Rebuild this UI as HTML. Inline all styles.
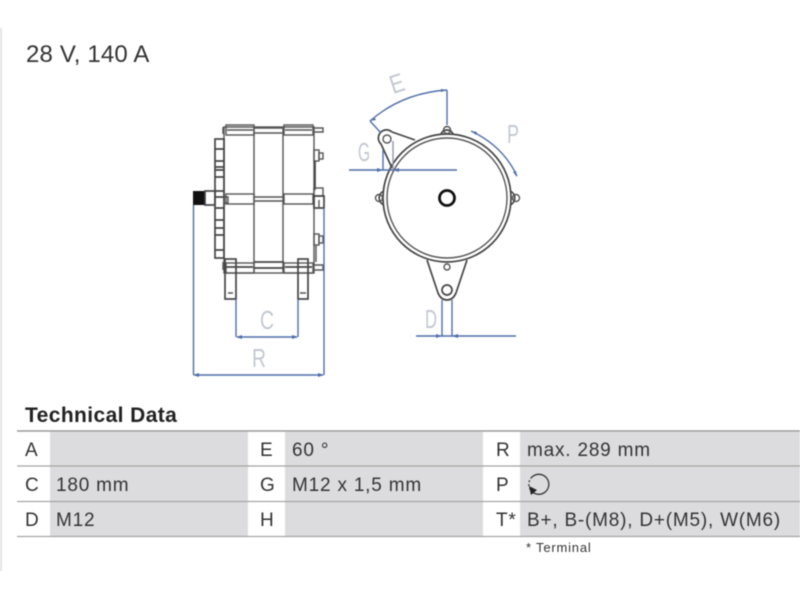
<!DOCTYPE html>
<html>
<head>
<meta charset="utf-8">
<style>
html,body{margin:0;padding:0;background:#fff;width:800px;height:600px;overflow:hidden}
svg{display:block;filter:blur(0.4px)}
text{font-family:"Liberation Sans",sans-serif;fill:#333}
.k{font-size:19px;letter-spacing:.8px}
.d{font-family:"Liberation Sans",sans-serif;font-size:26px;fill:#c3c8d0}
.m{fill:none;stroke:#555;stroke-width:1.400}
.t{fill:none;stroke:#444;stroke-width:1.700}
.b{fill:none;stroke:#4f6ea8;stroke-width:1.400}
.bf{fill:#4f6ea8}
</style>
</head>
<body>
<svg width="800" height="600" viewBox="0 0 800 600" xmlns="http://www.w3.org/2000/svg">
<rect x="0" y="28" width="2" height="543" fill="#e4e4e4"/>
<text x="26" y="62" font-size="24" letter-spacing=".15">28 V, 140 A</text>

<!-- side view -->
<g>
<rect class="m" x="224" y="127" width="90" height="146" fill="none"/>
<path class="m" d="M254 127V273M283 127V273"/>
<!-- top band -->
<rect class="m" x="226" y="125" width="28" height="10"/>
<rect class="m" x="284" y="125" width="29" height="10"/>
<path class="m" d="M227 130H253M285 130H312M254 128H284M254 133H284"/>
<path class="m" d="M223 127V134M313 128H323V132H313"/>
<!-- middle band -->
<rect class="m" x="226" y="194" width="28" height="10"/>
<rect class="m" x="284" y="194" width="29" height="10"/>
<path class="m" d="M254 197H284M254 201H284"/>
<!-- lower band -->
<rect class="m" x="226" y="263" width="28" height="10"/>
<rect class="m" x="284" y="263" width="29" height="10"/>
<path class="t" d="M254 262H284M254 268H284M226 267H253M285 267H312"/>
<path class="m" d="M313 265H323V270H313M223 262V270"/>
<!-- left plate -->
<rect class="t" x="215" y="139" width="9" height="119"/>
<path class="t" d="M215 149H224M215 161H224M215 167H224M215 170H224M215 177H224M215 191H224M215 197H224M215 208H224M215 220H224M215 228H224M215 235H224M215 250H224"/>
<!-- shaft -->
<rect x="193" y="191" width="12" height="14" fill="#111"/>
<rect class="t" x="205" y="191" width="10" height="14"/>
<path class="m" d="M224 197H228V203H224"/>
<!-- right studs -->
<rect class="m" x="314" y="150" width="5" height="11"/>
<rect class="m" x="319" y="153" width="4" height="6"/>
<path class="t" d="M315 161V190"/>
<rect class="m" x="314" y="234" width="5" height="11"/>
<rect class="m" x="319" y="236" width="4" height="7"/>
<rect class="m" x="314" y="188" width="9" height="8"/>
<rect class="t" x="314" y="196" width="10" height="12"/>
<path class="m" d="M314 208H319V200M316 245V262"/>
<!-- feet -->
<rect class="t" x="225" y="259" width="11" height="40" fill="#fff"/>
<rect class="t" x="298" y="259" width="10" height="40" fill="#fff"/>
<path class="m" d="M228 293H233M300 293H306"/>
</g>

<!-- dims left -->
<path class="b" d="M193.500 205V375M324 208V375M236 299V337M298 299V337M194 375H323M237 337H297"/>
<path class="bf" d="M193 375l6-2v4zM324 375l-6-2v4zM236 337l6-2v4zM298 337l-6-2v4z"/>
<text class="d" x="260" y="329" textLength="14" lengthAdjust="spacingAndGlyphs">C</text>
<text class="d" x="252" y="367" textLength="14" lengthAdjust="spacingAndGlyphs">R</text>

<!-- front view -->
<g>
<circle class="t" cx="447" cy="198" r="64" stroke-width="2.200"/>
<circle class="m" cx="447" cy="198" r="60"/>
<circle cx="447" cy="198" r="7.500" fill="none" stroke="#111" stroke-width="2.800"/>
<path class="t" d="M392 132L415 140M392 168L381 144A7.500 7.500 0 0 1 392 132"/>
<circle class="m" cx="387" cy="139" r="4"/>
<path class="t" d="M427 260L438 293Q441 300 447 300Q453 300 456 293L467 260"/>
<circle class="t" cx="447" cy="290" r="5"/>
<circle class="m" cx="447" cy="267" r="3"/>
<path class="t" d="M441 134A6.500 6.500 0 0 1 453 134"/>
<circle class="m" cx="447" cy="130" r="3.500"/>
<path class="t" d="M384 191A7.500 7.500 0 0 0 384 205"/>
<circle class="m" cx="379" cy="198" r="3.500"/>
<path class="t" d="M510 191A7.500 7.500 0 0 1 510 205"/>
<circle class="m" cx="516" cy="198" r="3.500"/>
</g>

<!-- dims front -->
<path class="b" d="M370 121Q402 93 447 90M447 90V125M370 121L381 133"/>
<path class="bf" d="M447 90l-6-1v3zM370 121l5-3 1 2z"/>
<path class="b" d="M349 170H457M383 150V170"/>
<path d="M393 141V170" fill="none" stroke="#8e99ad" stroke-width="1.400"/>
<path class="bf" d="M383 170l-6-2v4zM393 170l6-2v4z"/>
<path class="b" d="M471 131Q503 146 517 176"/>
<path class="bf" d="M471 131l6 1-1 3zM517 177l-4-5 3-1z"/>
<path class="b" d="M442 300V336M452 300V336M416 336H516"/>
<path class="bf" d="M442 336l-6-2v4zM452 336l6-2v4z"/>
<text class="d" x="0" y="0" transform="translate(393 94) rotate(-18)" textLength="14" lengthAdjust="spacingAndGlyphs">E</text>
<text class="d" x="358" y="161" textLength="12" lengthAdjust="spacingAndGlyphs">G</text>
<text class="d" x="507" y="143" textLength="12" lengthAdjust="spacingAndGlyphs">P</text>
<text class="d" x="425" y="328" textLength="12" lengthAdjust="spacingAndGlyphs">D</text>

<!-- table -->
<text x="25" y="422" font-size="21" font-weight="bold" style="fill:#222" letter-spacing=".4">Technical Data</text>
<rect x="50" y="432" width="198" height="104" fill="#dcdcde"/>
<rect x="285" y="432" width="198" height="104" fill="#dcdcde"/>
<rect x="520" y="432" width="280" height="104" fill="#dcdcde"/>
<path d="M17 431H800" stroke="#999" stroke-width="1.500"/>
<path d="M17 466H800M17 501.500H800M17 536.500H800" stroke="#a5a5a5" stroke-width="1.300"/>

<text class="k" x="25" y="456">A</text>
<text class="k" x="25" y="491">C</text>
<text class="k" x="25" y="526">D</text>
<text class="k" x="56" y="491">180 mm</text>
<text class="k" x="56" y="526">M12</text>
<text class="k" x="260" y="456">E</text>
<text class="k" x="260" y="491">G</text>
<text class="k" x="260" y="526">H</text>
<text class="k" x="292" y="456">60 °</text>
<text class="k" x="292" y="491">M12 x 1,5 mm</text>
<text class="k" x="496" y="456">R</text>
<text class="k" x="496" y="491">P</text>
<text class="k" x="496" y="526">T*</text>
<text class="k" x="527" y="456">max. 289 mm</text>
<text class="k" x="527" y="526" textLength="254">B+, B-(M8), D+(M5), W(M6)</text>
<text x="526" y="552" font-size="13" letter-spacing=".8">* Terminal</text>
<path d="M530 489A10 10 0 1 0 532 477" fill="none" stroke="#333" stroke-width="1.300"/>
<path d="M532 477A10 10 0 0 0 530 489" fill="none" stroke="#333" stroke-width="1.300" stroke-dasharray="2 2"/>
<path d="M529 486L537 490L531 495Z" fill="#222"/>
</svg>
</body>
</html>
